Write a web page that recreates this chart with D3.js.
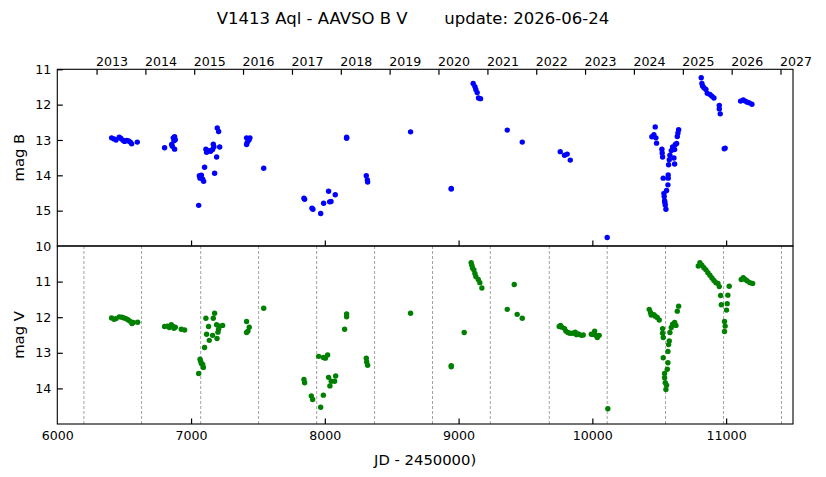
<!DOCTYPE html>
<html>
<head>
<meta charset="utf-8">
<script src="https://cdn.jsdelivr.net/npm/d3@7"></script>
<style>
  body { margin: 0; background: #fff; }
  text { font-family: "DejaVu Sans", sans-serif; fill: #000; }
</style>
</head>
<body>
<script>
var width = 826;
var height = 477;

// B band: [JD - 2450000, mag]
var bData = [
  [6406,12.94],[6424,12.97],[6439,13.00],[6463,12.92],[6476,12.96],[6491,13.01],[6503,13.04],
  [6518,13.01],[6533,13.03],[6546,13.06],[6556,13.11],[6598,13.06],
  [6802,13.22],[6855,13.13],[6867,12.94],[6877,12.91],[6872,13.02],[6860,13.18],[6877,13.26],[6882,12.99],
  [7057,14.85],[7062,14.01],[7072,14.05],[7077,14.00],[7067,14.08],[7087,14.11],[7094,14.17],[7101,13.77],
  [7111,13.26],[7116,13.35],[7134,13.30],[7146,13.32],[7161,13.27],[7166,13.12],[7171,13.19],[7176,13.94],
  [7191,13.48],[7196,12.66],[7206,12.76],[7214,13.20],
  [7415,12.94],[7415,13.13],[7420,13.07],[7430,13.01],[7440,12.94],[7433,12.99],
  [7543,13.80],
  [7844,14.65],[7849,14.68],[7904,14.93],[7911,14.96],[7969,15.08],[7991,14.79],[8028,14.45],[8036,14.75],
  [8046,14.74],[8078,14.55],
  [8163,12.92],[8163,12.95],
  [8310,14.01],[8318,14.13],[8320,14.19],
  [8641,12.77],
  [8945,14.37],[8945,14.39],
  [9109,11.40],[9122,11.49],[9129,11.57],[9139,11.66],[9149,11.81],[9164,11.83],
  [9364,12.72],[9476,13.06],
  [9760,13.33],[9792,13.43],[9812,13.40],[9835,13.57],
  [10111,15.76],
  [10470,12.63],[10445,12.91],[10460,12.85],[10475,12.94],[10480,13.09],[10520,13.26],[10522,13.37],
  [10525,13.48],[10530,14.08],[10535,14.51],[10537,14.60],[10540,14.72],[10545,14.84],[10550,14.96],
  [10542,14.77],[10555,14.43],[10565,14.27],[10567,13.99],[10567,14.08],[10570,13.70],[10575,13.56],
  [10580,13.43],[10590,13.30],[10600,13.20],[10610,13.51],[10615,13.68],[10620,13.13],[10630,13.10],
  [10635,12.90],[10640,12.80],[10645,12.71],[10615,13.27],
  [10814,11.24],[10819,11.40],[10824,11.47],[10834,11.52],[10849,11.57],[10859,11.68],[10879,11.71],
  [10894,11.76],[10909,11.81],[10949,12.02],[10949,12.12],[10956,12.26],[10986,13.25],[10993,13.23],
  [11108,11.90],[11128,11.87],[11143,11.90],[11158,11.93],[11173,11.95],[11193,11.99]
];

// V band: [JD - 2450000, mag]
var vData = [
  [6406,12.02],[6424,12.06],[6439,12.04],[6463,11.99],[6483,12.00],[6498,12.02],[6513,12.04],
  [6528,12.07],[6543,12.11],[6558,12.18],[6568,12.15],[6601,12.14],
  [6802,12.26],[6822,12.25],[6837,12.29],[6852,12.21],[6862,12.25],[6872,12.31],[6882,12.28],[6927,12.34],[6952,12.36],
  [7057,13.58],[7067,13.18],[7072,13.24],[7077,13.30],[7087,13.33],[7092,13.41],[7101,12.85],[7111,12.03],
  [7116,12.48],[7131,12.26],[7136,12.65],[7161,12.51],[7166,12.03],[7176,11.89],[7191,12.21],[7194,12.60],
  [7201,12.42],[7206,12.34],[7216,12.25],[7236,12.23],
  [7415,12.12],[7415,12.43],[7425,12.39],[7435,12.28],
  [7543,11.75],
  [7844,13.75],[7849,13.84],[7899,14.21],[7909,14.31],[7954,13.10],[7989,13.13],[8004,13.15],[8021,13.06],
  [7969,14.53],[7989,14.19],[8028,13.69],[8038,13.93],[8048,13.80],[8073,13.80],[8081,13.65],
  [8148,12.34],[8163,11.91],[8163,11.99],
  [8310,13.15],[8313,13.26],[8320,13.35],
  [8641,11.89],
  [8945,13.36],[8945,13.39],
  [9042,12.43],
  [9094,10.47],[9099,10.54],[9104,10.62],[9114,10.67],[9122,10.77],[9129,10.86],[9147,10.94],[9159,11.03],[9174,11.18],
  [9416,11.08],[9364,11.78],[9438,11.92],[9476,12.03],
  [9752,12.26],[9762,12.23],[9772,12.28],[9792,12.32],[9802,12.39],[9817,12.43],[9832,12.45],[9852,12.45],
  [9872,12.42],[9882,12.49],[9897,12.47],[9917,12.51],[9932,12.50],
  [9992,12.48],[10007,12.48],[10017,12.39],[10027,12.51],[10037,12.57],[10051,12.51],
  [10116,14.57],
  [10425,11.78],[10435,11.87],[10440,11.94],[10460,11.93],[10470,11.97],[10485,12.01],[10500,12.08],
  [10525,12.32],[10525,12.45],[10530,12.57],[10530,13.14],[10540,13.58],[10540,13.70],[10545,13.84],
  [10550,14.03],[10555,13.91],[10560,13.46],[10565,13.28],[10565,12.96],[10570,12.77],[10575,12.67],
  [10580,12.43],[10590,12.29],[10600,12.20],[10615,12.15],[10625,12.23],[10635,11.83],[10645,11.69],
  [10792,10.56],[10804,10.47],[10819,10.54],[10834,10.61],[10849,10.67],[10864,10.75],[10879,10.82],
  [10894,10.90],[10909,10.97],[10924,11.03],[10939,11.05],[10949,11.14],[10959,11.39],[10964,11.65],
  [10988,12.12],[10993,12.25],[10988,12.40],[11003,11.80],[11008,11.62],[11013,11.38],[11023,11.13],
  [11113,10.94],[11128,10.89],[11143,10.94],[11158,10.98],[11178,11.03],[11198,11.05]
];

// dashed markers in the V panel
var dashJD = [6199, 6630, 7072, 7505, 7939, 8372, 8805, 9237, 9678, 10111, 10547, 10981, 11414];

// calendar years on top axis (JD of Jan 1)
var yearLabels = ["2013","2014","2015","2016","2017","2018","2019","2020","2021","2022","2023","2024","2025","2026","2027"];
var yearJD = [6293.5, 6658.5, 7023.5, 7388.5, 7754.5, 8119.5, 8484.5, 8849.5, 9215.5, 9580.5, 9945.5, 10310.5, 10676.5, 11041.5, 11406.5];

var xTicks = [6000, 7000, 8000, 9000, 10000, 11000];
var bTicks = [11, 12, 13, 14, 15];
var vTicks = [10, 11, 12, 13, 14];

var left = 57.3, right = 793;
var topB = 69.3, botB = 246, botV = 424;

var svg = d3.select("body").append("svg")
    .attr("width", width)
    .attr("height", height);

var x = d3.scaleLinear().domain([6000, 11500]).range([left, right]);
var yB = d3.scaleLinear().domain([11, 16]).range([topB, botB]);
var yV = d3.scaleLinear().domain([10, 15]).range([botB, botV]);

var fmt = d3.format("d");

// title
svg.append("text")
  .attr("x", 413)
  .attr("y", 24)
  .attr("text-anchor", "middle")
  .style("font-size", "16.5px")
  .style("white-space", "pre")
  .text("V1413 Aql - AAVSO B V       update: 2026-06-24");

// dashed lines (V panel)
svg.selectAll("line.dash")
  .data(dashJD)
.enter().append("line")
  .attr("class", "dash")
  .attr("x1", function(d) { return x(d); })
  .attr("x2", function(d) { return x(d); })
  .attr("y1", botB)
  .attr("y2", botV)
  .attr("stroke", "#8a8a8a")
  .attr("stroke-width", 0.8)
  .attr("stroke-dasharray", "3,2");

// points
svg.append("g").selectAll("circle")
  .data(bData)
.enter().append("circle")
  .attr("cx", function(d) { return x(d[0]); })
  .attr("cy", function(d) { return yB(d[1]); })
  .attr("r", 2.7)
  .attr("fill", "blue");

svg.append("g").selectAll("circle")
  .data(vData)
.enter().append("circle")
  .attr("cx", function(d) { return x(d[0]); })
  .attr("cy", function(d) { return yV(d[1]); })
  .attr("r", 2.7)
  .attr("fill", "green");

// axes, inward ticks
function styleAxis(g) {
  g.select(".domain").remove();
  g.selectAll(".tick line").attr("stroke", "#000").attr("stroke-width", 1.2);
  g.selectAll(".tick text").style("font-family", "DejaVu Sans").style("font-size", "12.6px").attr("fill", "#000");
}

// top panel: left
svg.append("g")
  .attr("transform", "translate(" + left + ",0)")
  .call(d3.axisRight(yB).tickValues(bTicks).tickSize(5.5).tickFormat(""))
  .call(styleAxis);
svg.append("g")
  .attr("transform", "translate(" + left + ",0)")
  .call(d3.axisLeft(yB).tickValues(bTicks).tickSize(0).tickPadding(6).tickFormat(fmt))
  .call(styleAxis);

// bottom panel: left
svg.append("g")
  .attr("transform", "translate(" + left + ",0)")
  .call(d3.axisRight(yV).tickValues(vTicks.slice(1)).tickSize(5.5).tickFormat(""))
  .call(styleAxis);
svg.append("g")
  .attr("transform", "translate(" + left + ",0)")
  .call(d3.axisLeft(yV).tickValues(vTicks).tickSize(0).tickPadding(6).tickFormat(fmt))
  .call(styleAxis);

// x ticks inside both panels
svg.append("g")
  .attr("transform", "translate(0," + botB + ")")
  .call(d3.axisTop(x).tickValues(xTicks.slice(1)).tickSize(5.5).tickFormat(""))
  .call(styleAxis);
svg.append("g")
  .attr("transform", "translate(0," + botV + ")")
  .call(d3.axisTop(x).tickValues(xTicks.slice(1)).tickSize(5.5).tickFormat(""))
  .call(styleAxis);
svg.append("g")
  .attr("transform", "translate(0," + botV + ")")
  .call(d3.axisBottom(x).tickValues(xTicks).tickSize(0).tickPadding(7).tickFormat(fmt))
  .call(styleAxis);

// year axis on top
svg.append("g")
  .attr("transform", "translate(0," + topB + ")")
  .call(d3.axisBottom(x).tickValues(yearJD).tickSize(5.5).tickFormat(""))
  .call(styleAxis);
svg.selectAll("text.year")
  .data(yearJD)
.enter().append("text")
  .attr("class", "year")
  .attr("x", function(d) { return x(d) - 0.5; })
  .attr("y", 66)
  .style("font-size", "12.6px")
  .text(function(d, i) { return yearLabels[i]; });

// frames
svg.append("rect")
  .attr("x", left).attr("y", topB)
  .attr("width", right - left).attr("height", botB - topB)
  .attr("fill", "none").attr("stroke", "#000").attr("stroke-width", 1.1);
svg.append("rect")
  .attr("x", left).attr("y", botB)
  .attr("width", right - left).attr("height", botV - botB)
  .attr("fill", "none").attr("stroke", "#000").attr("stroke-width", 1.1);

// axis labels
svg.append("text")
  .attr("transform", "translate(23.5," + ((topB + botB) / 2) + ") rotate(-90)")
  .attr("text-anchor", "middle")
  .style("font-size", "14.8px")
  .text("mag B");
svg.append("text")
  .attr("transform", "translate(23.5," + ((botB + botV) / 2) + ") rotate(-90)")
  .attr("text-anchor", "middle")
  .style("font-size", "14.8px")
  .text("mag V");
svg.append("text")
  .attr("x", (left + right) / 2)
  .attr("y", 465)
  .attr("text-anchor", "middle")
  .style("font-size", "14.8px")
  .text("JD - 2450000)");
</script>
</body>
</html>
